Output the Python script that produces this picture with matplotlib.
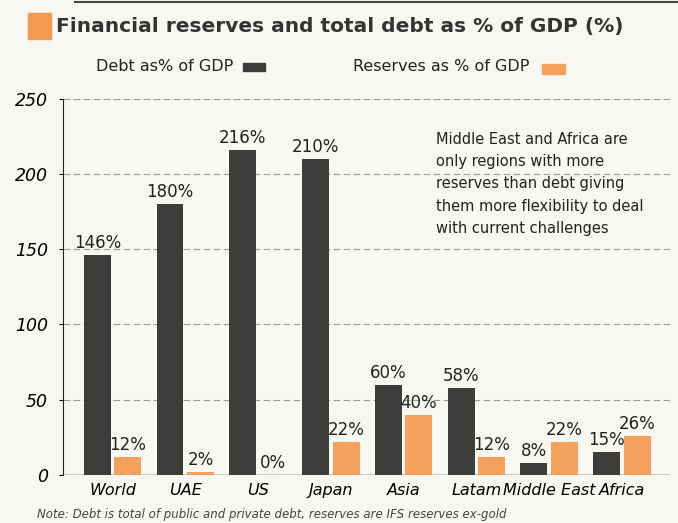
import numpy as np
import matplotlib.pyplot as plt
from matplotlib.patches import Rectangle

regions = ['World', 'UAE', 'US', 'Japan', 'Asia', 'Latam', 'Middle East', 'Africa']
debt = [146, 180, 216, 210, 60, 58, 8, 15]
reserves = [12, 2, 0, 22, 40, 12, 22, 26]

debt_col = '#3d3d3b'
res_col = '#f5a05c'
bg = '#f8f7f2'

fig = plt.figure(figsize=(6.78, 5.23), dpi=100, facecolor=bg)
ax = fig.add_axes([0.093, 0.092, 0.895, 0.719], facecolor=bg)

x = np.arange(len(regions))
w = 0.37
ax.bar(x - 0.21, debt, w, color=debt_col, zorder=3)
ax.bar(x + 0.21, reserves, w, color=res_col, zorder=3)

for xi, d, r in zip(x, debt, reserves):
    ax.text(xi - 0.21, d + 2, f'{d}%', ha='center', va='bottom', fontsize=12,
            color='#222222', zorder=4)
    ax.text(xi + 0.21, r + 2, f'{r}%', ha='center', va='bottom', fontsize=12,
            color='#222222', zorder=4)

ax.set_xlim(-0.68, 7.66)
ax.set_ylim(0, 250)
ax.set_yticks([0, 50, 100, 150, 200, 250])
ax.set_xticks(x)
ax.set_xticklabels(regions, fontstyle='italic', fontsize=11.5)
ax.tick_params(axis='y', labelsize=12.5, length=3, pad=8)
ax.tick_params(axis='x', length=0, pad=6)
for lab in ax.get_yticklabels():
    lab.set_fontstyle('italic')
ax.yaxis.grid(True, linestyle=(0, (6, 3)), color='#9a9a98', linewidth=0.8, zorder=0)
ax.axhline(0, color='#333333', linewidth=1.0, zorder=2)
for s in ['top', 'right', 'bottom']:
    ax.spines[s].set_visible(False)
ax.spines['left'].set_color('#222222')

# title
fig.add_artist(Rectangle((0.041, 0.925), 0.034, 0.05, transform=fig.transFigure,
                         color='#f29a4e'))
fig.text(0.082, 0.95, 'Financial reserves and total debt as % of GDP (%)',
         fontsize=14.5, fontweight='heavy', color='#333333', va='center')
fig.add_artist(plt.Line2D([0.11, 1.0], [0.996, 0.996], color='#444444',
                          linewidth=1.5, transform=fig.transFigure))

# legend
fig.text(0.142, 0.872, 'Debt as% of GDP', fontsize=11.5, va='center', color='#222222')
fig.add_artist(Rectangle((0.358, 0.864), 0.033, 0.016, transform=fig.transFigure,
                         color=debt_col))
fig.text(0.52, 0.872, 'Reserves as % of GDP', fontsize=11.5, va='center', color='#222222')
fig.add_artist(Rectangle((0.800, 0.858), 0.034, 0.020, transform=fig.transFigure,
                         color=res_col))

# annotation
ax.text(4.45, 228, 'Middle East and Africa are\nonly regions with more\n'
        'reserves than debt giving\nthem more flexibility to deal\n'
        'with current challenges', fontsize=10.5, va='top', ha='left',
        color='#222222', linespacing=1.6, zorder=4)

fig.text(0.055, 0.004, 'Note: Debt is total of public and private debt, reserves are IFS reserves ex-gold',
         fontsize=8.5, fontstyle='italic', color='#444444', va='bottom')

plt.savefig('out.png', dpi=100, facecolor=bg)
